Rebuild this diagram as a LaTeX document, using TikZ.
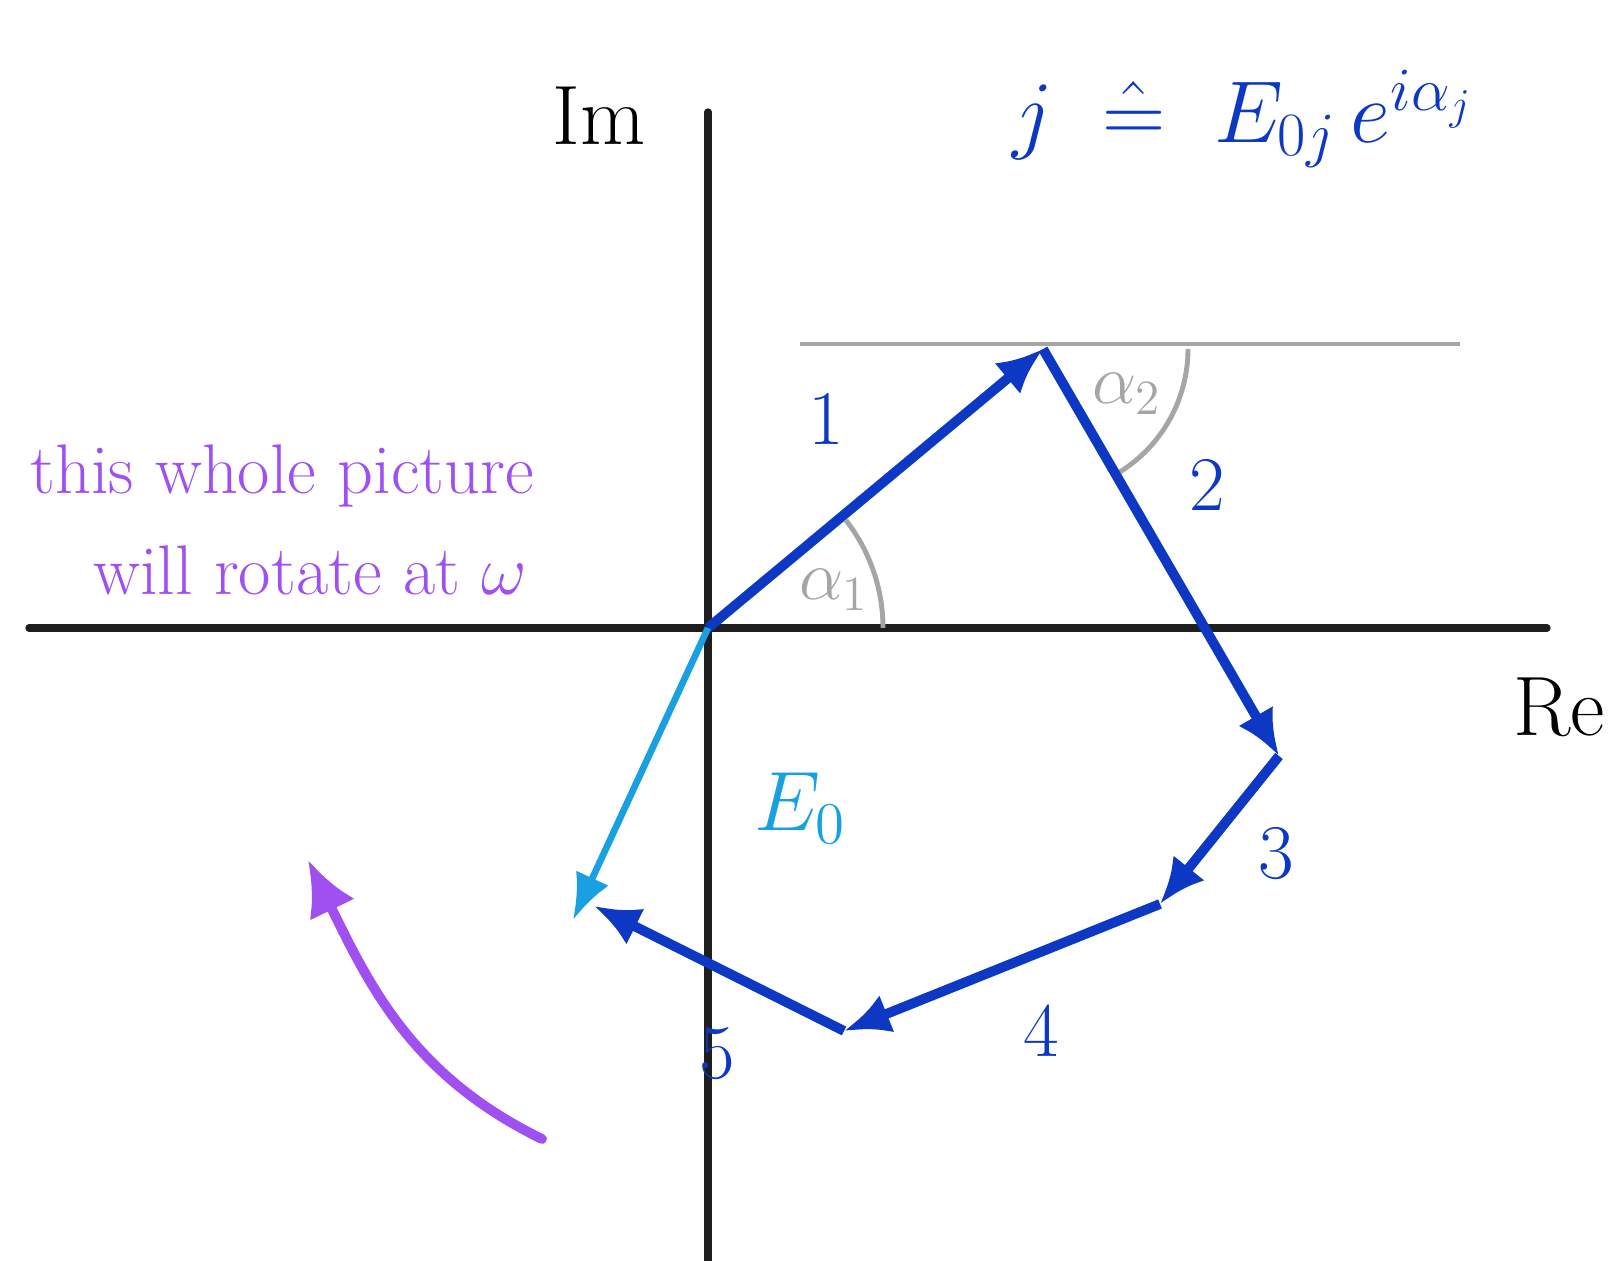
\documentclass[tikz,border=0pt]{standalone}
\usepackage{fix-cm}
\usepackage{amsmath,amssymb}
\usepackage{tikz}
\usetikzlibrary{arrows.meta}
\definecolor{vecblue}{RGB}{12,56,196}
\definecolor{eblue}{RGB}{25,160,225}
\definecolor{rotpurple}{RGB}{160,80,240}
\definecolor{anglegray}{RGB}{165,165,165}
\definecolor{axisblack}{RGB}{30,30,30}
\newcommand{\handsize}[1]{\fontsize{#1}{1.2\dimexpr #1pt\relax}\selectfont}

\begin{document}
\begin{tikzpicture}[x=1cm,y=1cm,
        axis/.style={line width=2.1pt, color=axisblack, line cap=round},
        vec/.style={line width=2.8pt, color=vecblue, -{Latex[length=4.6mm,width=4mm]}},
        evec/.style={line width=1.9pt, color=eblue, -{Latex[length=4.6mm,width=3.6mm]}},
        angle/.style={line width=1.4pt, color=anglegray},
        num/.style={color=vecblue, font=\handsize{22}},
        note/.style={color=rotpurple, font=\handsize{20}}]
    \useasboundingbox (0,0) rectangle (16.24,12.61);
    % axes
    \coordinate (O) at (7.08,6.33);
    \draw[axis] (0.29,6.33) -- (15.47,6.33); \draw[axis] (7.08,0) -- (7.08,11.49);
    \node[font=\handsize{24}] (im) at (5.99,11.45) {Im};
    \node[font=\handsize{24}] (re) at (15.59,5.54) {Re};
    % phasor chain
    \coordinate (P1) at (10.43,9.12); \coordinate (P2) at (12.79,5.05); \coordinate (P3) at (11.60,3.57);
    \coordinate (P4) at (8.44,2.30); \coordinate (P5) at (5.94,3.55); \coordinate (E) at (5.73,3.41);
    \draw[angle] (8.00,9.17) -- (14.60,9.17);
    \draw[angle] ([shift=(0:1.75)]O) arc (0:38:1.75);
    \draw[angle] ([shift=(0:1.45)]P1) arc (0:-58:1.45);
    \draw[vec] (O) -- (P1); \draw[vec] (P1) -- (P2); \draw[vec] (P2) -- (P3);
    \draw[vec] (P3) -- (P4); \draw[vec] (P4) -- (P5);
    \draw[evec] (O) -- (E);
    \node[num] (n1) at (8.26,8.42) {1}; \node[num] (n2) at (12.07,7.76) {2}; \node[num] (n3) at (12.76,4.07) {3};
    \node[num] (n4) at (10.41,2.30) {4}; \node[num] (n5) at (7.17,2.07) {5};
    \node[color=eblue, font=\handsize{24}] (e0) at (8.00,4.53) {$E_0$};
    \node[color=anglegray, font=\handsize{20}] (a1) at (8.34,6.71) {$\alpha_1$};
    \node[color=anglegray, font=\handsize{20}] (a2) at (11.27,8.67) {$\alpha_2$};
    % definition
    \node[color=vecblue, font=\handsize{25}] (def) at (12.43,11.42) {$j \;\mathrel{\hat{=}}\; E_{0j}\, e^{i\alpha_j}$};
    % rotation note
    \node[note] (t1) at (2.82,7.85) {this whole picture};
    \node[note] (t2) at (3.10,6.91) {will rotate at $\omega$};
    \coordinate (r0) at (5.42,1.22); \coordinate (r1) at (3.08,4.01);
    \draw[line width=2.8pt, color=rotpurple, line cap=round, -{Latex[length=5.5mm,width=5mm]}] (r0) to[out=154,in=-64] (r1);
\end{tikzpicture}
\end{document}
